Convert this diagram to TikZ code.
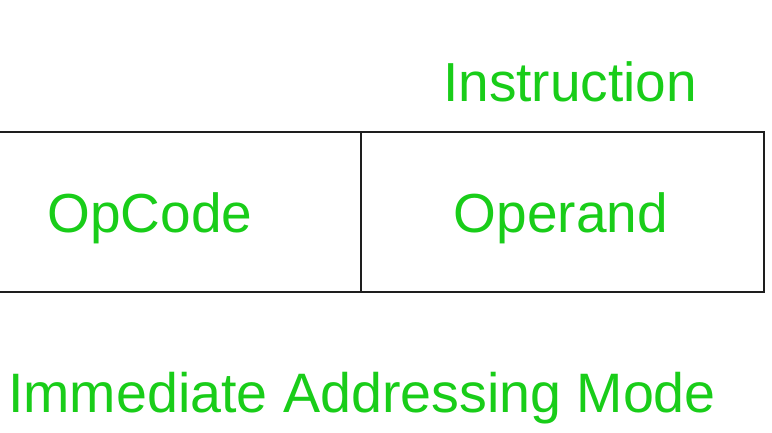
\documentclass[tikz,border=0pt]{standalone}
\usepackage{fontspec}
\setmainfont{Liberation Sans}
\definecolor{txtgreen}{RGB}{25,205,25}
\definecolor{boxline}{RGB}{30,30,30}
\tikzset{
  lbl/.style={text=txtgreen, font=\fontsize{55}{60}\selectfont, anchor=base, inner sep=0pt},
  boxedge/.style={draw=boxline, line width=2pt}
}
\begin{document}
\begin{tikzpicture}[x=1pt,y=-1pt]
\useasboundingbox (0,0) rectangle (772,433);
\fill[white] (0,0) rectangle (772,433);
\coordinate (tl) at (-2,132);
\coordinate (tr) at (764,132);
\coordinate (br) at (764,292);
\coordinate (bl) at (-2,292);
\coordinate (dt) at (361,132);
\coordinate (db) at (361,292);
\draw[boxedge] (tl) -- (tr) -- (br) -- (bl);
\draw[boxedge] (dt) -- (db);
\node[lbl] (instr) at (570,102) {Instruction};
\node[lbl] (opcode) at (150,233) {OpCode};
\node[lbl] (operand) at (561,233) {Operand};
\node[lbl, font=\fontsize{55.6}{60}\selectfont, anchor=base west] (mode) at (8,412) {Immediate Addressing Mode};
\end{tikzpicture}
\end{document}
